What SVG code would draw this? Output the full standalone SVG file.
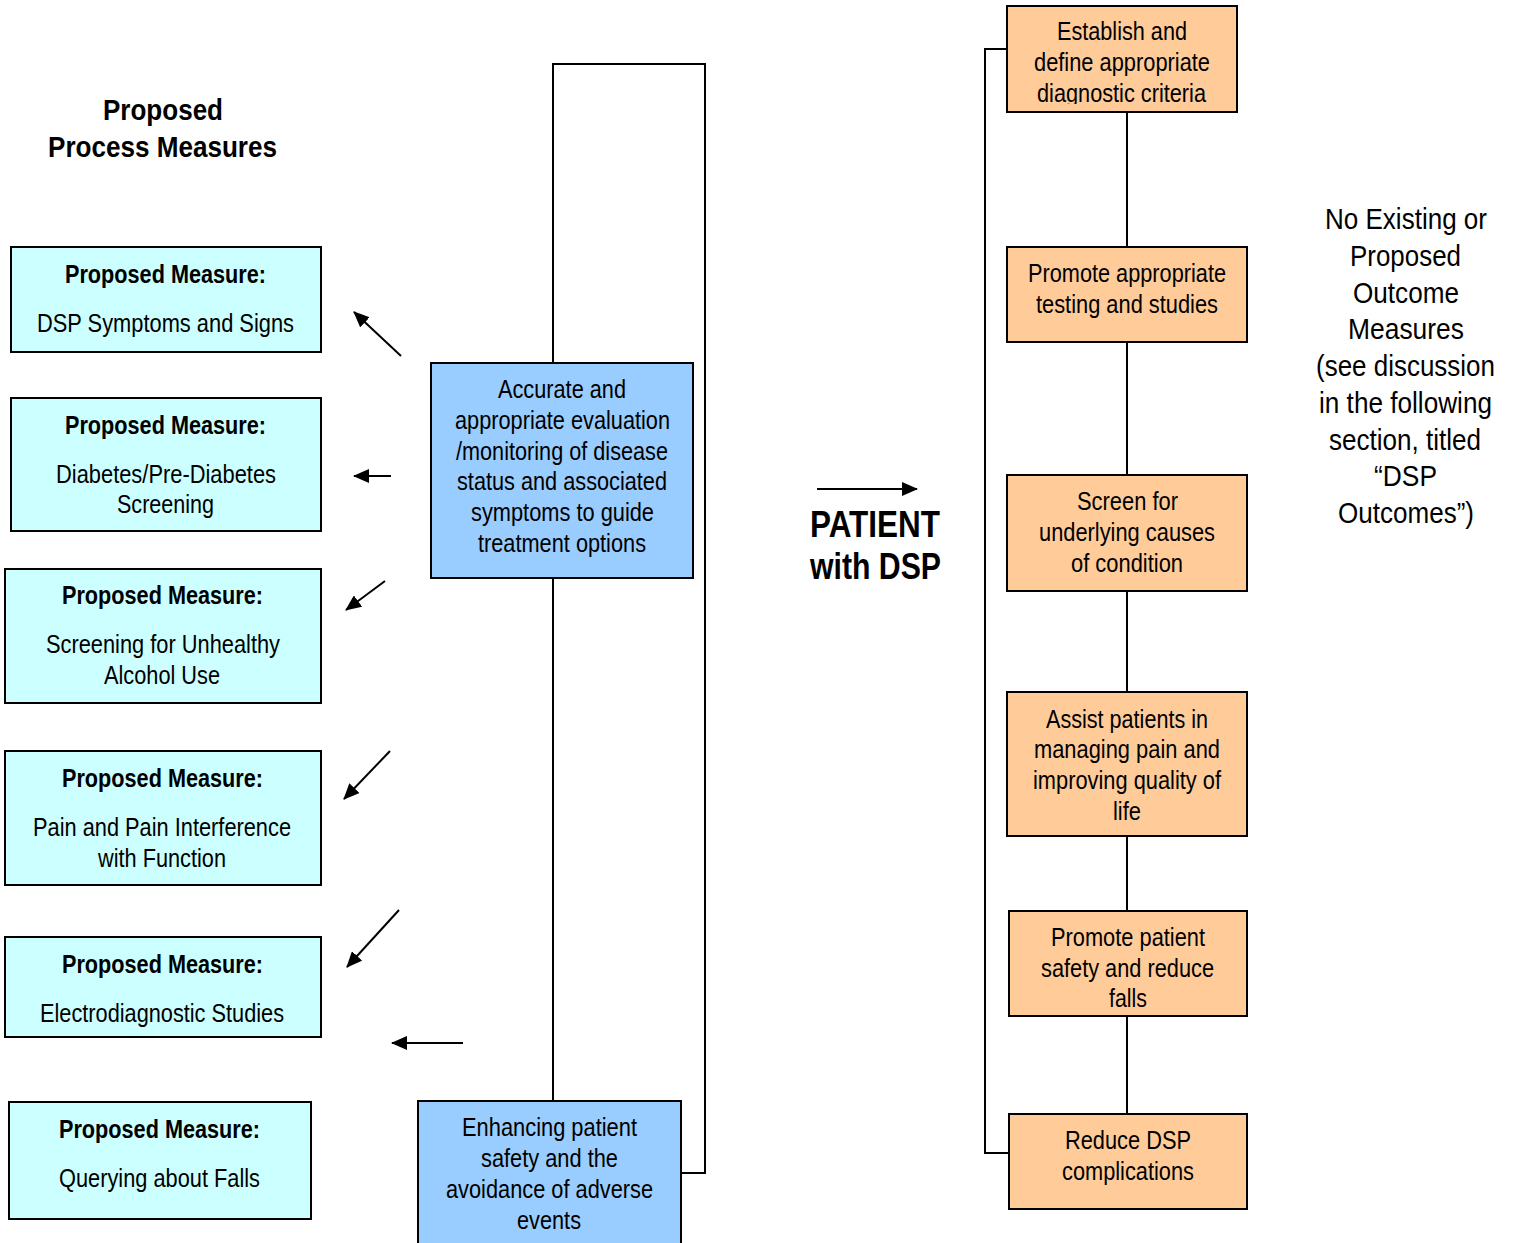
<svg xmlns="http://www.w3.org/2000/svg" width="1513" height="1243" viewBox="0 0 1513 1243">
<style>
text{font-family:"Liberation Sans Narrow","Arial Narrow","Liberation Sans",Arial,sans-serif;fill:#000}
.t{font-size:26px}
.b{font-size:26px;font-weight:bold}
.h{font-size:29px;font-weight:bold}
.p{font-size:36px;font-weight:bold}
.r{font-size:29px}
.cy{fill:#CCFFFF;stroke:#000;stroke-width:2}
.bl{fill:#99CCFF;stroke:#000;stroke-width:2}
.or{fill:#FFCC99;stroke:#000;stroke-width:2}
.ln{fill:none;stroke:#000;stroke-width:2}
</style>
<defs>
<marker id="ah" viewBox="0 0 16 14" refX="15" refY="7" markerWidth="16" markerHeight="14" orient="auto" markerUnits="userSpaceOnUse">
<path d="M0,0 L16,7 L0,14 z" fill="#000"/>
</marker>
<clipPath id="c1"><rect x="1007" y="6" width="230" height="98"/></clipPath>
</defs>
<rect width="1513" height="1243" fill="#fff"/>

<g id="title">
<text class="h" x="103" y="120" textLength="120" lengthAdjust="spacingAndGlyphs">Proposed</text>
<text class="h" x="48" y="157" textLength="229" lengthAdjust="spacingAndGlyphs">Process Measures</text>
</g>

<g id="connectors">
<path class="ln" d="M553 1101 V64 H705 V1173 H681"/>
<path class="ln" d="M1007 49 H985 V1153 H1009"/>
<path class="ln" d="M1127 112 V247 M1127 342 V475 M1127 591 V692 M1127 836 V911 M1127 1016 V1114"/>
<g class="ln" marker-end="url(#ah)">
<line x1="401" y1="356" x2="354" y2="312"/>
<line x1="391" y1="476" x2="354" y2="476"/>
<line x1="385" y1="581" x2="346" y2="610"/>
<line x1="390" y1="751" x2="344" y2="799"/>
<line x1="399" y1="910" x2="347" y2="967"/>
<line x1="463" y1="1043" x2="392" y2="1043"/>
<line x1="817" y1="489" x2="917" y2="489"/>
</g>
</g>

<g id="m1">
<rect class="cy" x="11" y="247" width="310" height="105"/>
<text class="b" x="65" y="283" textLength="201" lengthAdjust="spacingAndGlyphs">Proposed Measure:</text>
<text class="t" x="37" y="332" textLength="257" lengthAdjust="spacingAndGlyphs">DSP Symptoms and Signs</text>
</g>
<g id="m2">
<rect class="cy" x="11" y="398" width="310" height="133"/>
<text class="b" x="65" y="434" textLength="201" lengthAdjust="spacingAndGlyphs">Proposed Measure:</text>
<text class="t" x="56" y="483" textLength="220" lengthAdjust="spacingAndGlyphs">Diabetes/Pre-Diabetes</text>
<text class="t" x="117" y="513" textLength="97" lengthAdjust="spacingAndGlyphs">Screening</text>
</g>
<g id="m3">
<rect class="cy" x="5" y="569" width="316" height="134"/>
<text class="b" x="62" y="604" textLength="201" lengthAdjust="spacingAndGlyphs">Proposed Measure:</text>
<text class="t" x="46" y="653" textLength="234" lengthAdjust="spacingAndGlyphs">Screening for Unhealthy</text>
<text class="t" x="104" y="684" textLength="116" lengthAdjust="spacingAndGlyphs">Alcohol Use</text>
</g>
<g id="m4">
<rect class="cy" x="5" y="751" width="316" height="134"/>
<text class="b" x="62" y="787" textLength="201" lengthAdjust="spacingAndGlyphs">Proposed Measure:</text>
<text class="t" x="33" y="836" textLength="258" lengthAdjust="spacingAndGlyphs">Pain and Pain Interference</text>
<text class="t" x="98" y="867" textLength="128" lengthAdjust="spacingAndGlyphs">with Function</text>
</g>
<g id="m5">
<rect class="cy" x="5" y="937" width="316" height="100"/>
<text class="b" x="62" y="973" textLength="201" lengthAdjust="spacingAndGlyphs">Proposed Measure:</text>
<text class="t" x="40" y="1022" textLength="244" lengthAdjust="spacingAndGlyphs">Electrodiagnostic Studies</text>
</g>
<g id="m6">
<rect class="cy" x="9" y="1102" width="302" height="117"/>
<text class="b" x="59" y="1138" textLength="201" lengthAdjust="spacingAndGlyphs">Proposed Measure:</text>
<text class="t" x="59" y="1187" textLength="201" lengthAdjust="spacingAndGlyphs">Querying about Falls</text>
</g>

<g id="eval">
<rect class="bl" x="431" y="363" width="262" height="215"/>
<text class="t" x="498" y="398" textLength="128" lengthAdjust="spacingAndGlyphs">Accurate and</text>
<text class="t" x="455" y="429" textLength="215" lengthAdjust="spacingAndGlyphs">appropriate evaluation</text>
<text class="t" x="456" y="460" textLength="212" lengthAdjust="spacingAndGlyphs">/monitoring of disease</text>
<text class="t" x="457" y="490" textLength="210" lengthAdjust="spacingAndGlyphs">status and associated</text>
<text class="t" x="471" y="521" textLength="183" lengthAdjust="spacingAndGlyphs">symptoms to guide</text>
<text class="t" x="478" y="552" textLength="168" lengthAdjust="spacingAndGlyphs">treatment options</text>
</g>
<g id="safety">
<rect class="bl" x="418" y="1101" width="263" height="150"/>
<text class="t" x="462" y="1136" textLength="175" lengthAdjust="spacingAndGlyphs">Enhancing patient</text>
<text class="t" x="481" y="1167" textLength="137" lengthAdjust="spacingAndGlyphs">safety and the</text>
<text class="t" x="446" y="1198" textLength="207" lengthAdjust="spacingAndGlyphs">avoidance of adverse</text>
<text class="t" x="517" y="1229" textLength="64" lengthAdjust="spacingAndGlyphs">events</text>
</g>

<g id="patient">
<text class="p" x="810" y="537" textLength="130" lengthAdjust="spacingAndGlyphs">PATIENT</text>
<text class="p" x="810" y="579" textLength="131" lengthAdjust="spacingAndGlyphs">with DSP</text>
</g>

<g id="o1">
<rect class="or" x="1007" y="6" width="230" height="106"/>
<text class="t" x="1057" y="40" textLength="130" lengthAdjust="spacingAndGlyphs">Establish and</text>
<text class="t" x="1034" y="71" textLength="176" lengthAdjust="spacingAndGlyphs">define appropriate</text>
<text class="t" x="1037" y="102" textLength="169" lengthAdjust="spacingAndGlyphs" clip-path="url(#c1)">diagnostic criteria</text>
</g>
<g id="o2">
<rect class="or" x="1007" y="247" width="240" height="95"/>
<text class="t" x="1028" y="282" textLength="198" lengthAdjust="spacingAndGlyphs">Promote appropriate</text>
<text class="t" x="1036" y="313" textLength="182" lengthAdjust="spacingAndGlyphs">testing and studies</text>
</g>
<g id="o3">
<rect class="or" x="1007" y="475" width="240" height="116"/>
<text class="t" x="1077" y="510" textLength="101" lengthAdjust="spacingAndGlyphs">Screen for</text>
<text class="t" x="1039" y="541" textLength="176" lengthAdjust="spacingAndGlyphs">underlying causes</text>
<text class="t" x="1071" y="572" textLength="112" lengthAdjust="spacingAndGlyphs">of condition</text>
</g>
<g id="o4">
<rect class="or" x="1007" y="692" width="240" height="144"/>
<text class="t" x="1046" y="728" textLength="162" lengthAdjust="spacingAndGlyphs">Assist patients in</text>
<text class="t" x="1034" y="758" textLength="186" lengthAdjust="spacingAndGlyphs">managing pain and</text>
<text class="t" x="1033" y="789" textLength="188" lengthAdjust="spacingAndGlyphs">improving quality of</text>
<text class="t" x="1113" y="820" textLength="28" lengthAdjust="spacingAndGlyphs">life</text>
</g>
<g id="o5">
<rect class="or" x="1009" y="911" width="238" height="105"/>
<text class="t" x="1051" y="946" textLength="154" lengthAdjust="spacingAndGlyphs">Promote patient</text>
<text class="t" x="1041" y="977" textLength="173" lengthAdjust="spacingAndGlyphs">safety and reduce</text>
<text class="t" x="1109" y="1007" textLength="38" lengthAdjust="spacingAndGlyphs">falls</text>
</g>
<g id="o6">
<rect class="or" x="1009" y="1114" width="238" height="95"/>
<text class="t" x="1065" y="1149" textLength="126" lengthAdjust="spacingAndGlyphs">Reduce DSP</text>
<text class="t" x="1062" y="1180" textLength="132" lengthAdjust="spacingAndGlyphs">complications</text>
</g>

<g id="outcome">
<text class="r" x="1325" y="229" textLength="162" lengthAdjust="spacingAndGlyphs">No Existing or</text>
<text class="r" x="1350" y="266" textLength="111" lengthAdjust="spacingAndGlyphs">Proposed</text>
<text class="r" x="1353" y="303" textLength="106" lengthAdjust="spacingAndGlyphs">Outcome</text>
<text class="r" x="1348" y="339" textLength="116" lengthAdjust="spacingAndGlyphs">Measures</text>
<text class="r" x="1316" y="376" textLength="179" lengthAdjust="spacingAndGlyphs">(see discussion</text>
<text class="r" x="1319" y="413" textLength="173" lengthAdjust="spacingAndGlyphs">in the following</text>
<text class="r" x="1329" y="450" textLength="152" lengthAdjust="spacingAndGlyphs">section, titled</text>
<text class="r" x="1374" y="486" textLength="63" lengthAdjust="spacingAndGlyphs">“DSP</text>
<text class="r" x="1338" y="523" textLength="136" lengthAdjust="spacingAndGlyphs">Outcomes”)</text>
</g>
</svg>
